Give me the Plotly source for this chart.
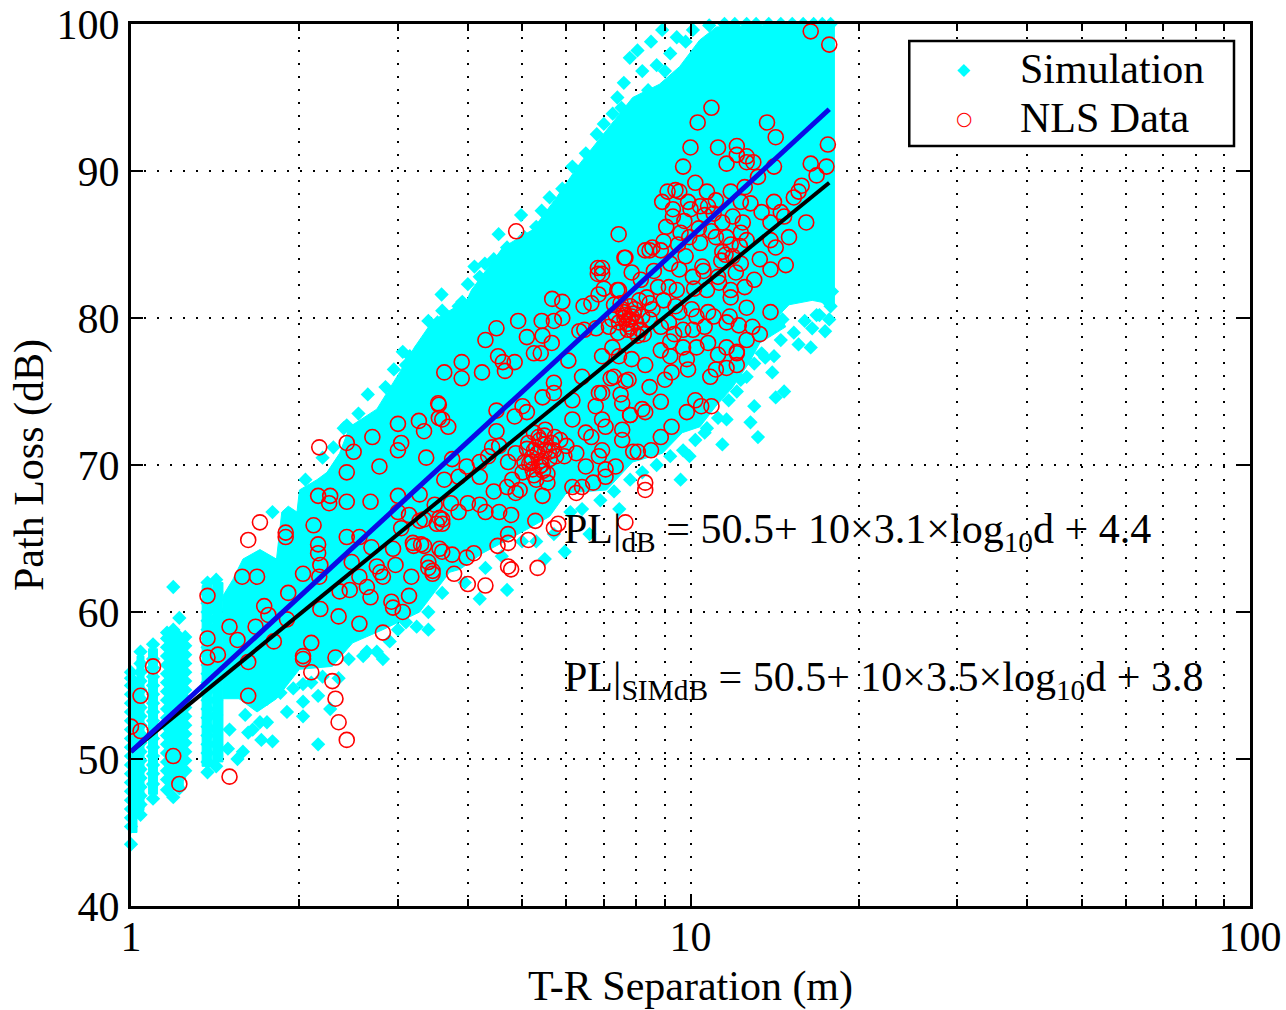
import plotly.graph_objects as go

# Solid part of the simulation cloud: envelope
sim_region_d = [1.46,1.52,1.585,1.70,1.82,1.86,1.91,1.98,2.00,2.15,2.24,2.36,2.46,2.75,3.02,3.21,3.46,3.98,4.06,4.62,5.22,5.76,6.34,7.17,7.88,8.80,9.56,10.38,11.13,18.08,
                18.08,16.5,15.0,14.4,14.8,13.3,12.75,11.9,11.1,10.4,9.67,8.91,7.88,7.08,6.0,5.6,5.09,4.25,3.87,3.71,3.28,2.82,2.49,2.29,2.00,1.82,1.68,1.56,1.46]
sim_region_pl = [61.1,62.2,63.6,64.25,63.6,66.8,67.2,66.8,68.3,69.0,69.5,70.8,72.6,73.8,76.3,78.0,79.8,81.2,81.9,84.8,86.0,88.2,90.5,93.0,95.0,95.9,97.1,98.9,99.8,100,
                 80.9,81.2,80.9,80.2,79.4,78.3,77.0,75.3,74.0,72.6,72.2,70.8,70.2,68.3,68.1,66.5,65.6,64.0,62.9,62.7,60.0,58.8,57.9,56.3,56.1,54.1,53.2,54.1,54.1]

# Solid vertical bands of simulation points at short range
band_d_left = [1.0, 1.025, 1.075, 1.165, 1.34, 1.40]
band_d_right = [1.025, 1.055, 1.115, 1.24, 1.395, 1.46]
band_low = [45.0, 46.5, 47.6, 48.0, 49.5, 49.8]
band_high = [55.5, 57.0, 57.5, 58.5, 61.8, 62.0]

# Measurement columns at short range
col_d = [1.0, 1.04, 1.095, 1.16, 1.19, 1.22, 1.25, 1.37, 1.42]
col_pl = [
    [44.2,45.4,46.0,46.6,47.2,47.8,48.4,49.0,49.6,50.2,50.8,51.4,52.0,52.6,53.2,53.8,54.4,55.0,55.5,55.9],
    [46.2,46.9,47.5,48.1,48.7,49.3,49.9,50.5,51.1,51.7,52.3,52.9,53.5,54.1,54.7,55.3,55.9,56.5,57.3],
    [47.3,48.3,49.0,49.6,50.2,50.8,51.4,52.0,52.6,53.2,53.8,54.4,55.0,55.6,56.2,56.8,57.8],
    [47.9,48.6,49.2,49.8,50.4,51.0,51.6,52.2,52.8,53.4,54.0,54.6,55.2,55.8,56.4,57.0,57.6,58.2,58.6],
    [47.4,48.4,49.0,49.6,50.2,50.8,51.4,52.0,52.6,53.2,53.8,54.4,55.0,55.6,56.2,56.8,57.4,58.0,58.8,61.7],
    [48.0,48.7,49.3,49.9,50.5,51.1,51.7,52.3,52.9,53.5,54.1,54.7,55.3,55.9,56.5,57.1,57.7,58.3,59.6],
    [49.2,49.9,50.5,51.1,51.7,52.3,52.9,53.5,54.1,54.7,55.3,55.9,56.5,57.1,57.7,58.3],
    [49.1,49.8,50.4,51.0,51.6,52.2,52.8,53.4,54.0,54.6,55.2,55.8,56.4,57.0,57.6,58.2,58.8,59.4,60.0,60.6,61.2,62.0],
    [49.5,51.0,52.0,53.0,54.0,54.8,55.4,56.0,56.6,57.2,57.8,58.4,59.0,59.6,60.2,60.8,61.4,62.2],
]

# Scattered simulation points around the solid region
fringe_d = [1.79,1.71,1.585,1.55,1.62,1.49,1.70,1.75,1.79,1.90,2.03,2.03,2.03,2.16,2.27,2.16,2.64,2.75,2.82,3.24,3.0,1.79,2.43,
            3.59,4.54,4.98,5.42,4.11,4.29,3.15,3.06,3.53,3.74,3.91,8.04,7.79,8.5,8.9,9.45,7.53,7.26,
            11.4,13.2,12.8,11.6,13.0,14.2,14.7,14.0,14.1,13.4,15.6,16.4,17.4,16.5,16.8,17.7,17.7,17.5,14.6,12.3,10.7,9.96,
            9.6,7.46,6.6,5.96,5.49,4.7,4.2,3.4]
fringe_pl = [51.2,51.3,50.5,50.0,51.8,50.7,52.5,54.1,54.5,53.2,53.9,52.9,55.1,54.3,53.4,51.0,57.3,57.3,56.8,59.0,58.8,66.8,72.7,
             81.6,85.7,87.0,87.3,83.5,83.7,77.4,77.7,79.7,80.0,81.1,98.2,97.7,98.8,99.6,99.1,94.3,93.9,
             71.4,71.9,72.9,73.1,74.0,74.6,75.0,76.3,77.4,77.6,78.2,78.0,79.1,79.3,80.2,79.9,81.8,81.2,79.9,75.8,72.5,70.6,
             69.0,67.0,65.3,64.1,63.6,61.5,60.9,58.8]
upper_edge_d = [2.05,2.2,2.3,2.4,2.55,2.65,2.85,2.95,3.1,3.3,3.4,3.6,3.85,4.0,4.2,4.45,4.7,5.05,5.3,5.6,5.9,6.15,6.5,6.8,7.0,7.4,7.6,8.2,8.7,9.2,9.8,10.1,10.8,8.4,9,6.6,
                11.5,12.0,12.6,13.1,13.8,14.5,15.2,15.9,16.6,17.2,17.8]
upper_edge_pl = [69,70.5,71.2,72.5,73.5,74.8,75.3,76.5,76.8,78,79.8,80.5,80.8,82.3,82.8,84,84.8,85.5,86.2,88.2,88.8,90.3,91.2,92.5,93.2,95,96,96.8,97.2,98,98.8,99.6,99.9,95.5,96.8,89.8,
                 100,100,100,100,100,100,100,100,100,100,100]
lower_edge_d = [1.5,1.6,1.65,1.75,1.85,1.95,2.1,2.2,2.35,2.45,2.6,2.9,3.1,3.4,3.6,3.95,4.3,4.6,5.0,5.3,5.7,6.1,6.4,6.9,7.3,7.8,8.2,8.7,9.2,9.7,10.2,10.6,11.2,11.7,12.1,12.6,13,13.6,14.5,15.3,16,17,17.8,17.9]
lower_edge_pl = [52,53,52,52.5,54.5,54.8,55.2,55.6,55.5,56.8,57,58,59.3,60,61.3,62,63,63.8,64.8,64.8,65.3,66.8,67,67.6,68.2,69,69.5,70,70.6,71,71.7,72.2,73.2,74.4,75,76,76.9,77.3,78.5,79,79.8,80.2,80.8,81.8]

# NLS measurements, read point by point
nls_d = [1.0,1.04,1.04,1.095,1.19,1.22,1.37,1.37,1.37,1.43,1.5,1.5,1.55,1.58,1.68,1.62,1.70,1.62,1.62,1.67,1.73,1.76,1.8,1.91,1.89,1.89,1.9,
 2.03,2.03,2.03,2.1,2.1,2.12,2.16,2.27,2.26,2.43,2.16,2.16,2.18,2.17,2.18,2.35,2.32,2.29,2.32,2.35,2.43,2.17,2.43,2.5,2.43,2.78,2.7,3,3,3.04,3.27,3.34,3.37,3.55,3.6,
 2.68,3,3.28,3.49,2.43,2.56,2.69,2.94,3,3.04,2.48,2.56,2.46,2.36,2.64,2.68,2.75,2.79,2.82,2.97,2.56,2.82,2.92,2.94,3.06,3.14,3.17,3.4,3.46,3.19,3.3,3.6,3.6,3.52,3.28,
 4.88,7.44,7.62,6.83,6.83,8.3,7.4,5.66,5.9,6.44,6.65,4.92,5.42,5.7,5.9,4.5,4.3,5.1,5.44,5.65,5.25,5.4,4.53,4.62,4.85,4.66,3.9,3.9,3.63,4.24,6.05,6.33,6.46,6.78,
 3.54,3.55,3.69,4.5,4.85,5.01,5.1,4.5,5.44,5.7,5.7,6.15,6.4,6.86,6.77,7.3,7.65,7.55,7.8,8.3,6.95,6.15,6.5,6.65,7.55,7.55,7.9,8.05,6.95,7.35,7.05,6.86,6.5,6.25,
 5.85,5.7,6,5.5,5.38,5.25,5.13,5.33,5.5,5.75,5.95,5.2,5.38,5.25,5.55,5.44,5.01,5.05,4.87,4.87,4.7,4.45,4.95,4.8,4.72,4.55,4.42,4.35,4.2,3.98,3.75,3.63,4.2,3.85,3.73,4.0,4.2,3.85,4.3,4.55,4.78,3.56,3.34,3.14,3.6,
 5.28,5.7,5.8,7.65,5.13,4.72,4.52,4.72,4.1,3.98,3.75,3.56,3.4,3.2,3.34,5.33,4.72,4.78,3.78,3.46,4.0,4.3,8.3,8.3,6.15,6.25,6.4,6.7,7.05,
 16.4,17.7,10.9,10.3,13.7,14.2,17.6,10,11.2,12.1,11.6,9.7,12.1,12.6,12.95,12.6,14.1,16.4,17.5,16.8,13.2,10.2,9.4,9.1,8.9,9.55,11.8,12.5,15.8,15.6,15.3,9.9,10.7,11.1,9.3,9.3,10,10.4,10.75,12.8,12.3,13.4,14.1,14.7,14.5,16.1,15,13.9,11.9,12.4,11.4,9.6,
 10.4,11.1,11.6,12.3,12.6,13.9,14.2,11.8,11.4,8.55,8.85,8.45,7.65,9.8,10.5,12.3,13.3,13.9,14.8,11.9,11.2,10.1,9.2,9.55,7.85,6.95,6.95,7.45,8.15,8.75,9.15,10.7,11.8,11.8,12.5,13,12.6,13.9,11.75,10.75,10.05,9.4,8.95,8.45,8.1,
 7.75,7.65,7.85,7.45,7.8,8,7.55,7.35,7.25,7.95,8.2,8.55,8.45,8.15,8.85,9.15,9.55,9.7,9.35,10.25,11.0,10.6,10.1,
 11.6,12.2,12.9,13.3,12.6,11.6,12.1,11.2,10.25,9.7,10.75,9.2,9.85,9.9,8.85,8.3,7.85,7.25,7.45,6.95,12.1,12.1,11.6,11.1,10.85,9.25,9,8.45,7.75,7.2,6.95,7.5,8.85,8.2,7.8,9.85,10.2,10.45,10.9,9.25,8.85,8.5,7.05,
 5.2,5.3,5.4,5.5,5.6,5.45,5.35,5.25,5.15,5.55,5.65,5.3,5.42,5.58,5.72,5.1,5.22,5.48,
 7.6,7.7,7.8,7.9,7.5,7.72,7.62,7.82,7.92,7.42,8.05,8.25,8.35,7.3,7.15,6.85,7.0,8.6,8.95,9.05,9.5,9.75,9.95,10.35,10.55,10.9,11.35,11.55,12.05,12.25,11.0,11.25,9.2,9.45,10.15,10.6]
nls_pl = [52.2,51.9,54.3,56.3,50.2,48.3,61.1,58.2,56.9,57.1,59,48.8,58.1,62.4,62.4,64.9,66.1,56.6,54.3,59,60.4,59.8,58,61.3,65.4,65.1,59.5,
 62.6,57,56.8,57.9,55.9,65.9,67.9,67.9,67.4,67.5,64.6,64,63.2,62.4,60.2,59.7,56.9,55.3,54.1,52.5,51.3,71.2,71.5,70.9,69.5,69.9,71.9,72.8,71.0,71.5,73,72.3,70.5,74.1,73.1,
 67.5,67.9,68,67.3,65.1,65.1,64.4,64.3,66.8,65.7,63.4,62.4,61.5,61.4,61.7,61,63.1,62.7,62.4,63.2,59.2,58.6,60.7,60.3,60,61.1,62.4,63,62.6,64.7,64.6,64.1,66.3,66,66.2,
 85.9,85.7,84.1,83.4,83,84.6,81.9,81.3,81.1,80.8,81,79.8,79.8,79.8,80,79.3,78.5,78.7,78.8,78.3,77.6,77.6,77.4,77,77,76.4,77,75.9,76.3,76.3,77.1,79.1,79.2,79.3,
 74.2,73.2,72.6,73.7,73.3,74,73.6,72.3,74.6,75.6,74.9,74.4,76,74.9,74,76,75.7,74.2,73.4,73.6,73.1,73.1,72.2,71.9,72.4,71.7,70.9,70.9,71,69.9,69.7,70.6,69.9,70.8,
 71.7,71,71.3,72.4,71.7,72.2,71.5,70.8,71,70.6,70.6,70.2,69.9,69.3,68.8,67.9,69.5,70.2,70.8,68.1,68.5,68.2,68.3,69,70.2,71.3,71.2,70.6,70.2,69.9,70.4,69,69.2,69.2,67.4,67.4,67.3,66.8,66.8,66.8,66.6,66.4,66.3,66.6,66,
 66.2,65.7,66,66.1,64.9,65.3,64.5,64.7,64,63.7,63.9,64.3,63.4,64.5,64.5,63,63.1,62.9,62.6,62.8,61.9,61.8,68.8,68.3,68.5,68.1,68.5,68.8,69.2,
 99.5,98.6,94.3,93.3,93.3,92.3,91.8,91.6,91.6,91.7,90.5,90.3,91.1,91,90.6,90.6,90.3,90.5,90.3,89.7,89.6,89.2,88.7,88.6,87.9,88.6,88.6,88.9,89,88.6,88.2,87.9,88.6,88,87.4,86.9,87.4,87.6,87.6,87.8,87.9,87.2,87.9,86.9,87.2,86.5,85.5,86.5,86.9,86.5,86.5,85.8,
 85.1,85.5,85.5,85.8,85.3,85.3,84.8,85,84.5,84.8,84.6,84.6,84.1,84.2,83.5,83.7,84,83.3,83.6,84.2,82.8,82.8,83.7,83.3,83.1,83.4,83,81.9,82.6,82.1,82.1,81.9,81.9,81.4,82.1,82.6,80.7,80.4,80.1,80.4,80.6,80.8,81.2,81,81.2,
 79.9,80.2,80.1,79.7,79.4,79.7,80.6,80.2,79.9,80.6,80.1,80.6,79.9,79.2,79.4,79.7,80.4,79.2,78.9,80.1,80.1,79.4,79.2,
 79.7,79.5,79.4,78.9,78.5,78,77.7,77.5,78,78,78.3,77.4,77.2,76.5,77.8,76.8,77.2,78,77.4,77.4,77.6,76.8,76.6,76.5,76,76.3,75.8,75.3,75.8,75.9,74.9,74.8,74.3,73.8,73.4,73.6,74.4,74,74,72.6,71.9,71,72.6,
 70.5,71.2,70.3,71.4,70.4,69.6,71.9,71,70.1,69.4,71.5,69,70,70.9,71.9,71.1,69.7,72,
 80.4,79.6,80.8,79.1,81,79.2,80,79.9,80.3,79,78.8,78.9,81.4,80.9,79.4,81.6,82,83.2,85.2,86.2,85,86.6,85.5,86.1,83.2,85.9,83.9,84.3,83.1,84.9,87.1,82.4,78.4,81.9,82,87]

# Fitted lines
fit_d = [1.0, 17.7]
fit_nls_pl = [50.5, 89.2]
fit_sim_pl = [50.5, 94.2]

x_tick_vals = [1, 10, 100]
x_tick_text = ["1", "10", "100"]
y_tick_vals = [40, 50, 60, 70, 80, 90, 100]
legend_labels = ["Simulation", "NLS Data"]

FONT = "Liberation Serif"
CYAN = "#00FFFF"

fig = go.Figure()
fig.add_trace(go.Scatter(x=sim_region_d, y=sim_region_pl, mode="lines", fill="toself",
                         fillcolor=CYAN, line=dict(color=CYAN, width=1),
                         showlegend=False, hoverinfo="skip"))
band_x, band_y = [], []
for dl, dr, lo, hi in zip(band_d_left, band_d_right, band_low, band_high):
    band_x += [dl, dr, dr, dl, dl, None]
    band_y += [lo, lo, hi, hi, lo, None]
fig.add_trace(go.Scatter(x=band_x, y=band_y, mode="lines", fill="toself", fillcolor=CYAN,
                         line=dict(color=CYAN, width=1), showlegend=False, hoverinfo="skip"))
col_x = [d for d, vals in zip(col_d, col_pl) for _ in vals]
col_y = [v for vals in col_pl for v in vals]
fig.add_trace(go.Scatter(x=col_x + fringe_d + upper_edge_d + lower_edge_d,
                         y=col_y + fringe_pl + upper_edge_pl + lower_edge_pl,
                         mode="markers", name=legend_labels[0], cliponaxis=False,
                         marker=dict(symbol="diamond", color=CYAN, size=11, line=dict(width=0))))
fig.add_trace(go.Scatter(x=nls_d, y=nls_pl, mode="markers", name=legend_labels[1], cliponaxis=True,
                         marker=dict(symbol="circle-open", color="#FF0000", size=15, line=dict(width=1.6, color="#FF0000"))))
fig.add_trace(go.Scatter(x=fit_d, y=fit_nls_pl, mode="lines", showlegend=False,
                         line=dict(color="#000000", width=4)))
fig.add_trace(go.Scatter(x=fit_d, y=fit_sim_pl, mode="lines", showlegend=False,
                         line=dict(color="#0A0AE6", width=5)))

eq_font = dict(family=FONT, size=42, color="black")
fig.add_annotation(xref="paper", yref="paper", x=0.385, y=0.424, xanchor="left", yanchor="middle", showarrow=False,
                   align="left", font=eq_font,
                   text="PL|<sub>dB</sub> = 50.5+ 10×3.1×log<sub>10</sub>d + 4.4")
fig.add_annotation(xref="paper", yref="paper", x=0.385, y=0.256, xanchor="left", yanchor="middle", showarrow=False,
                   align="left", font=eq_font,
                   text="PL|<sub>SIMdB</sub> = 50.5+ 10×3.5×log<sub>10</sub>d + 3.8")

# Legend box drawn to the reference's proportions (plotly's own rows are too tall at this font size)
fig.add_shape(type="rect", xref="paper", yref="paper", x0=0.6955, x1=0.9857, y0=0.8618, y1=0.9807,
              fillcolor="white", line=dict(color="black", width=2.5), layer="above")
for label, glyph, color, gsize, yfrac in [(legend_labels[0], "◆", CYAN, 17, 0.9486),
                                          (legend_labels[1], "○", "#FF0000", 19, 0.8935)]:
    fig.add_annotation(xref="paper", yref="paper", x=0.7446, y=yfrac, xanchor="center", yanchor="middle",
                       showarrow=False, text=glyph, font=dict(family="DejaVu Sans", size=gsize, color=color))
    fig.add_annotation(xref="paper", yref="paper", x=0.793, y=yfrac, xanchor="left", yanchor="middle",
                       showarrow=False, text=label, font=dict(family=FONT, size=42, color="black"))

fig.update_layout(
    width=1286, height=1010,
    margin=dict(l=131, r=36, t=24, b=104, pad=0),
    paper_bgcolor="white", plot_bgcolor="white",
    showlegend=False,
    font=dict(family=FONT, size=42, color="black"),
    xaxis=dict(type="log", range=[0, 2], tickvals=x_tick_vals, ticktext=x_tick_text, automargin=False,
               ticks="inside", ticklen=12, tickwidth=2, tickcolor="black", ticklabelstandoff=-8,
               showline=True, linecolor="black", linewidth=3, mirror="ticks",
               showgrid=True, gridcolor="black", griddash="2px,11px", gridwidth=2,
               minor=dict(ticks="inside", ticklen=7, tickwidth=2, tickcolor="black", dtick="D1",
                          showgrid=True, gridcolor="black", griddash="2px,11px", gridwidth=2),
               zeroline=False, tickfont=dict(family=FONT, size=42),
               title=dict(text="T-R Separation (m)", font=dict(family=FONT, size=42), standoff=14)),
    yaxis=dict(range=[40, 100], tickvals=y_tick_vals, automargin=False,
               ticks="inside", ticklen=12, tickwidth=2, tickcolor="black",
               showline=True, linecolor="black", linewidth=3, mirror="ticks",
               showgrid=True, gridcolor="black", griddash="2px,11px", gridwidth=2,
               zeroline=False, tickfont=dict(family=FONT, size=42),
               title=dict(text="Path Loss (dB)", font=dict(family=FONT, size=42), standoff=0)),
)

fig.write_html("out.html", config={"displayModeBar": False}, post_script="document.body.style.margin='0';")
